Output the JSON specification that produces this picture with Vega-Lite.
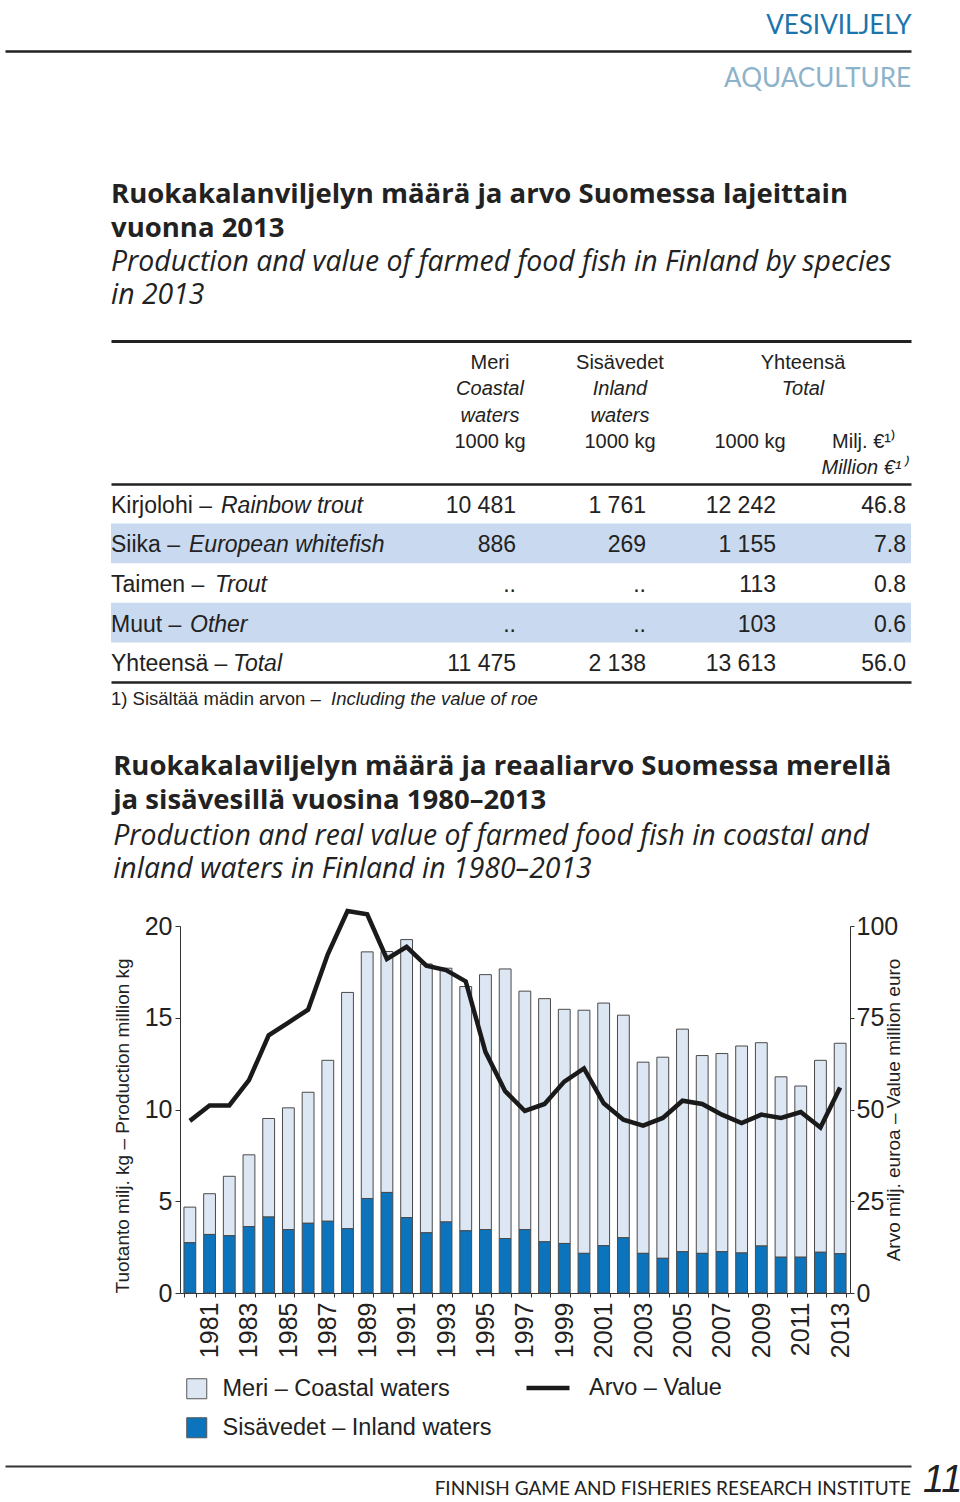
{
  "$schema": "https://vega.github.io/schema/vega-lite/v6.json",
  "background": "white",
  "padding": {"left": 2, "top": 12, "right": 0, "bottom": 0},
  "config": {
    "view": {"stroke": null},
    "font": "Liberation Sans",
    "text": {"color": "#222"},
    "axis": {"grid": false}
  },
  "datasets": {
    "prod": [
      {"year": 1980, "meri": 1.94, "sis": 2.74, "value": 46.9},
      {"year": 1981, "meri": 2.22, "sis": 3.19, "value": 51.1},
      {"year": 1982, "meri": 3.24, "sis": 3.12, "value": 51.1},
      {"year": 1983, "meri": 3.91, "sis": 3.62, "value": 58.0},
      {"year": 1984, "meri": 5.37, "sis": 4.14, "value": 70.2},
      {"year": 1985, "meri": 6.63, "sis": 3.46, "value": 73.7},
      {"year": 1986, "meri": 7.14, "sis": 3.80, "value": 77.2},
      {"year": 1987, "meri": 8.77, "sis": 3.91, "value": 92.3},
      {"year": 1988, "meri": 12.87, "sis": 3.51, "value": 104.1},
      {"year": 1989, "meri": 13.44, "sis": 5.15, "value": 103.2},
      {"year": 1990, "meri": 13.13, "sis": 5.48, "value": 91.0},
      {"year": 1991, "meri": 15.15, "sis": 4.11, "value": 94.3},
      {"year": 1992, "meri": 14.65, "sis": 3.28, "value": 89.2},
      {"year": 1993, "meri": 13.83, "sis": 3.87, "value": 88.0},
      {"year": 1994, "meri": 13.31, "sis": 3.39, "value": 84.9},
      {"year": 1995, "meri": 13.89, "sis": 3.46, "value": 65.7},
      {"year": 1996, "meri": 14.69, "sis": 2.97, "value": 55.0},
      {"year": 1997, "meri": 12.99, "sis": 3.46, "value": 49.6},
      {"year": 1998, "meri": 13.25, "sis": 2.79, "value": 51.5},
      {"year": 1999, "meri": 12.76, "sis": 2.70, "value": 57.6},
      {"year": 2000, "meri": 13.25, "sis": 2.16, "value": 61.2},
      {"year": 2001, "meri": 13.22, "sis": 2.58, "value": 51.7},
      {"year": 2002, "meri": 12.13, "sis": 3.01, "value": 47.2},
      {"year": 2003, "meri": 10.42, "sis": 2.16, "value": 45.6},
      {"year": 2004, "meri": 10.96, "sis": 1.89, "value": 47.7},
      {"year": 2005, "meri": 12.13, "sis": 2.25, "value": 52.4},
      {"year": 2006, "meri": 10.78, "sis": 2.16, "value": 51.5},
      {"year": 2007, "meri": 10.80, "sis": 2.25, "value": 48.6},
      {"year": 2008, "meri": 11.28, "sis": 2.18, "value": 46.3},
      {"year": 2009, "meri": 11.08, "sis": 2.56, "value": 48.6},
      {"year": 2010, "meri": 9.83, "sis": 1.95, "value": 47.7},
      {"year": 2011, "meri": 9.33, "sis": 1.95, "value": 49.3},
      {"year": 2012, "meri": 10.46, "sis": 2.22, "value": 45.1},
      {"year": 2013, "meri": 11.47, "sis": 2.14, "value": 56.0}
    ],
    "hdr": [
      {"line": "l1", "c": "meri", "t": "Meri", "lang": "fi"},
      {"line": "l2", "c": "meri", "t": "Coastal", "lang": "en"},
      {"line": "l3", "c": "meri", "t": "waters", "lang": "en"},
      {"line": "l4", "c": "meri", "t": "1000 kg", "lang": "fi"},
      {"line": "l1", "c": "sis", "t": "Sisävedet", "lang": "fi"},
      {"line": "l2", "c": "sis", "t": "Inland", "lang": "en"},
      {"line": "l3", "c": "sis", "t": "waters", "lang": "en"},
      {"line": "l4", "c": "sis", "t": "1000 kg", "lang": "fi"},
      {"line": "l4", "c": "tot", "t": "1000 kg", "lang": "fi"},
      {"line": "l1", "c": "val", "t": "Yhteensä", "lang": "fi"},
      {"line": "l2", "c": "val", "t": "Total", "lang": "en"},
      {"line": "l4", "c": "val", "t": "Milj. €¹⁾", "lang": "fi"},
      {"line": "l5", "c": "val", "t": "Million €¹⁾", "lang": "en"}
    ],
    "body": [
      {"row": "Kirjolohi", "c": "lab", "fi": "Kirjolohi –", "en": "Rainbow trout"},
      {"row": "Kirjolohi", "c": "meri", "t": "10 481"},
      {"row": "Kirjolohi", "c": "sis", "t": "1 761"},
      {"row": "Kirjolohi", "c": "tot", "t": "12 242"},
      {"row": "Kirjolohi", "c": "val", "t": "46.8"},
      {"row": "Siika", "c": "lab", "fi": "Siika –", "en": "European whitefish"},
      {"row": "Siika", "c": "meri", "t": "886"},
      {"row": "Siika", "c": "sis", "t": "269"},
      {"row": "Siika", "c": "tot", "t": "1 155"},
      {"row": "Siika", "c": "val", "t": "7.8"},
      {"row": "Taimen", "c": "lab", "fi": "Taimen –", "en": "Trout"},
      {"row": "Taimen", "c": "meri", "t": ".."},
      {"row": "Taimen", "c": "sis", "t": ".."},
      {"row": "Taimen", "c": "tot", "t": "113"},
      {"row": "Taimen", "c": "val", "t": "0.8"},
      {"row": "Muut", "c": "lab", "fi": "Muut –", "en": "Other"},
      {"row": "Muut", "c": "meri", "t": ".."},
      {"row": "Muut", "c": "sis", "t": ".."},
      {"row": "Muut", "c": "tot", "t": "103"},
      {"row": "Muut", "c": "val", "t": "0.6"},
      {"row": "Yhteensä", "c": "lab", "fi": "Yhteensä –", "en": "Total"},
      {"row": "Yhteensä", "c": "meri", "t": "11 475"},
      {"row": "Yhteensä", "c": "sis", "t": "2 138"},
      {"row": "Yhteensä", "c": "tot", "t": "13 613"},
      {"row": "Yhteensä", "c": "val", "t": "56.0"}
    ]
  },
  "spacing": 88,
  "vconcat": [
    {
      "width": 906,
      "height": 1,
      "data": {"values": [{}]},
      "title": {"text": "AQUACULTURE", "orient": "bottom", "anchor": "end", "color": "#8db3ca", "font": "Lato", "fontSize": 26, "fontWeight": "normal", "offset": 12},
      "mark": {"type": "point", "opacity": 0},
      "encoding": {
        "x": {"datum": 0, "type": "quantitative", "scale": {"domain": [0, 1]},
          "axis": {"orient": "top", "domain": true, "domainColor": "#222", "domainWidth": 2.5, "ticks": false, "labels": false, "grid": false,
            "title": "VESIVILJELY", "titleAnchor": "end", "titleColor": "#1b74ac", "titleFont": "Lato", "titleFontSize": 26, "titleFontWeight": "normal", "titlePadding": 13}}
      }
    },
    {
      "spacing": 37,
      "vconcat": [
        {
          "spacing": 0,
          "hconcat": [
            {"width": 106, "height": 1, "data": {"values": [{}]}, "mark": {"type": "point", "opacity": 0}, "encoding": {}},
            {
              "spacing": 0,
              "vconcat": [
                {
                  "width": 800,
                  "height": 143,
                  "title": {
                    "text": ["Ruokakalanviljelyn määrä ja arvo Suomessa lajeittain", "vuonna 2013"],
                    "subtitle": ["Production and value of farmed food fish in Finland by species", "in 2013"],
                    "anchor": "start", "frame": "group", "font": "Open Sans", "fontSize": 27.5, "fontWeight": "bold", "lineHeight": 34, "color": "#222",
                    "subtitleFont": "Open Sans", "subtitleFontSize": 28.4, "subtitleFontStyle": "italic", "subtitleLineHeight": 33, "subtitleColor": "#222", "subtitlePadding": 6, "offset": 32
                  },
                  "data": {"name": "hdr"},
                  "resolve": {"scale": {"x": "independent"}, "axis": {"x": "independent"}},
                  "encoding": {
                    "x": {"field": "c", "type": "nominal", "scale": {"type": "point", "domain": ["meri", "sis", "tot", "val"], "range": [405, 795], "padding": 0}, "axis": null},
                    "y": {"field": "line", "type": "nominal", "scale": {"type": "point", "domain": ["l1", "l2", "l3", "l4", "l5"], "padding": 0.72}, "axis": null},
                    "text": {"field": "t"}
                  },
                  "layer": [
                    {"mark": {"type": "point", "opacity": 0},
                      "encoding": {"x": {"datum": 0, "type": "quantitative", "scale": {"domain": [0, 1]},
                        "axis": {"orient": "top", "domain": true, "domainWidth": 3, "domainColor": "#222", "ticks": false, "labels": false, "title": null, "grid": false}}}},
                    {"transform": [{"filter": "datum.c != 'val' && datum.lang == 'fi'"}], "mark": {"type": "text", "align": "center", "dx": -26, "dy": 3, "fontSize": 20}},
                    {"transform": [{"filter": "datum.c != 'val' && datum.lang == 'en'"}], "mark": {"type": "text", "align": "center", "dx": -26, "dy": 3, "fontSize": 20, "fontStyle": "italic"}},
                    {"transform": [{"filter": "datum.c == 'val' && datum.line == 'l1'"}], "mark": {"type": "text", "align": "center", "dx": -103, "dy": 3, "fontSize": 20}},
                    {"transform": [{"filter": "datum.c == 'val' && datum.line == 'l2'"}], "mark": {"type": "text", "align": "center", "dx": -103, "dy": 3, "fontSize": 20, "fontStyle": "italic"}},
                    {"transform": [{"filter": "datum.c == 'val' && datum.line == 'l4'"}], "mark": {"type": "text", "align": "center", "dx": -42, "dy": 3, "fontSize": 20}},
                    {"transform": [{"filter": "datum.c == 'val' && datum.line == 'l5'"}], "mark": {"type": "text", "align": "center", "dx": -42, "dy": 3, "fontSize": 20, "fontStyle": "italic"}}
                  ]
                },
                {
                  "width": 800,
                  "height": 198,
                  "data": {"name": "body"},
                  "resolve": {"scale": {"x": "independent"}, "axis": {"x": "independent"}},
                  "encoding": {
                    "y": {"field": "row", "type": "nominal", "scale": {"type": "band", "domain": ["Kirjolohi", "Siika", "Taimen", "Muut", "Yhteensä"], "paddingInner": 0, "paddingOuter": 0}, "axis": null}
                  },
                  "layer": [
                    {"transform": [{"filter": "datum.c == 'lab' && (datum.row == 'Siika' || datum.row == 'Muut')"}], "mark": {"type": "bar", "color": "#c9d9ef"}},
                    {"transform": [{"filter": "datum.c != 'lab'"}], "mark": {"type": "text", "align": "right", "fontSize": 23, "dy": 2},
                      "encoding": {
                        "x": {"field": "c", "type": "nominal", "scale": {"type": "point", "domain": ["meri", "sis", "tot", "val"], "range": [405, 795], "padding": 0}, "axis": null},
                        "text": {"field": "t"}
                      }},
                    {"transform": [{"filter": "datum.c == 'lab'"}], "mark": {"type": "text", "align": "left", "fontSize": 23, "dy": 2},
                      "encoding": {
                        "x": {"datum": 0, "type": "quantitative", "scale": {"domain": [0, 1]},
                          "axis": {"orient": "bottom", "domain": true, "domainWidth": 2.5, "domainColor": "#222", "ticks": false, "labels": false, "title": null, "grid": false}},
                        "text": {"field": "fi"}
                      }},
                    {"transform": [{"filter": "datum.c == 'lab' && datum.row == 'Kirjolohi'"}], "mark": {"type": "text", "align": "left", "fontSize": 23, "fontStyle": "italic", "dx": 110, "dy": 2},
                      "encoding": {"x": {"datum": 0, "type": "quantitative", "scale": {"domain": [0, 1]},
                        "axis": {"orient": "top", "domain": true, "domainWidth": 2.5, "domainColor": "#222", "ticks": false, "labels": false, "title": null, "grid": false}}, "text": {"field": "en"}}},
                    {"transform": [{"filter": "datum.c == 'lab' && datum.row == 'Siika'"}], "mark": {"type": "text", "align": "left", "fontSize": 23, "fontStyle": "italic", "dx": 78, "dy": 2},
                      "encoding": {"x": {"datum": 0, "type": "quantitative", "scale": {"domain": [0, 1]}, "axis": null}, "text": {"field": "en"}}},
                    {"transform": [{"filter": "datum.c == 'lab' && datum.row == 'Taimen'"}], "mark": {"type": "text", "align": "left", "fontSize": 23, "fontStyle": "italic", "dx": 104, "dy": 2},
                      "encoding": {"x": {"datum": 0, "type": "quantitative", "scale": {"domain": [0, 1]}, "axis": null}, "text": {"field": "en"}}},
                    {"transform": [{"filter": "datum.c == 'lab' && datum.row == 'Muut'"}], "mark": {"type": "text", "align": "left", "fontSize": 23, "fontStyle": "italic", "dx": 79, "dy": 2},
                      "encoding": {"x": {"datum": 0, "type": "quantitative", "scale": {"domain": [0, 1]}, "axis": null}, "text": {"field": "en"}}},
                    {"transform": [{"filter": "datum.c == 'lab' && datum.row == 'Yhteensä'"}], "mark": {"type": "text", "align": "left", "fontSize": 23, "fontStyle": "italic", "dx": 122, "dy": 2},
                      "encoding": {"x": {"datum": 0, "type": "quantitative", "scale": {"domain": [0, 1]}, "axis": null}, "text": {"field": "en"}}}
                  ]
                },
                {
                  "width": 800,
                  "height": 34,
                  "data": {"values": [{"fi": "1) Sisältää mädin arvon –", "en": "Including the value of roe"}]},
                  "encoding": {"x": {"datum": 0, "type": "quantitative", "scale": {"domain": [0, 1]}, "axis": null}},
                  "layer": [
                    {"mark": {"type": "text", "align": "left", "fontSize": 18.5}, "encoding": {"text": {"field": "fi"}}},
                    {"mark": {"type": "text", "align": "left", "fontSize": 18.5, "fontStyle": "italic", "dx": 220}, "encoding": {"text": {"field": "en"}}}
                  ]
                }
              ]
            }
          ]
        },
        {
          "spacing": 104,
          "vconcat": [
            {
              "spacing": 0,
              "hconcat": [
                {"width": 108, "height": 1, "data": {"values": [{}]}, "mark": {"type": "point", "opacity": 0}, "encoding": {}},
                {
                  "width": 670,
                  "height": 367,
                  "title": {
                    "text": ["Ruokakalaviljelyn määrä ja reaaliarvo Suomessa merellä", "ja sisävesillä vuosina 1980–2013"],
                    "subtitle": ["Production and real value of farmed food fish in coastal and", "inland waters in Finland in 1980–2013"],
                    "anchor": "start", "frame": "bounds", "font": "Open Sans", "fontSize": 27.5, "fontWeight": "bold", "lineHeight": 34, "color": "#222",
                    "subtitleFont": "Open Sans", "subtitleFontSize": 28.4, "subtitleFontStyle": "italic", "subtitleLineHeight": 33, "subtitleColor": "#222", "subtitlePadding": 8, "offset": 19
                  },
                  "data": {"name": "prod"},
                  "encoding": {
                    "x": {"field": "year", "type": "ordinal", "scale": {"paddingInner": 0.4, "paddingOuter": 0.2},
                      "axis": {"title": null, "labelAngle": -90, "labelExpr": "datum.value % 2 == 1 ? datum.label : ''", "labelFont": "Liberation Sans", "labelFontSize": 25, "labelColor": "#222", "labelPadding": 5, "tickBand": "extent", "tickSize": 4, "tickColor": "#333", "domainColor": "#333"}}
                  },
                  "layer": [
                    {
                      "transform": [{"fold": ["meri", "sis"], "as": ["area", "v"]}],
                      "mark": {"type": "bar", "stroke": "#4a4a4a", "strokeWidth": 1},
                      "encoding": {
                        "y": {"field": "v", "type": "quantitative", "stack": "zero", "scale": {"domain": [0, 20], "nice": false},
                          "axis": {"orient": "left", "values": [0, 5, 10, 15, 20], "title": "Tuotanto milj. kg – Production million kg", "titleFont": "Liberation Sans", "titleFontSize": 19, "titleFontWeight": "normal", "titleColor": "#222", "titleAnchor": "start", "titlePadding": 12,
                            "labelFont": "Liberation Sans", "labelFontSize": 25, "labelColor": "#222", "labelPadding": 3, "tickSize": 5, "tickColor": "#333", "domainColor": "#333"}},
                        "fill": {"field": "area", "type": "nominal", "scale": {"domain": ["meri", "sis"], "range": ["#dde7f3", "#0b74bc"]},
                          "legend": {"orient": "none", "legendX": 180, "legendY": 1326, "title": null, "direction": "vertical", "symbolType": "square", "symbolSize": 400, "symbolStrokeColor": "#555", "symbolStrokeWidth": 1, "labelFont": "Liberation Sans", "labelFontSize": 23.5, "labelColor": "#222", "labelOffset": 14, "rowPadding": 14,
                            "labelExpr": "datum.label == 'meri' ? 'Meri – Coastal waters' : 'Sisävedet – Inland waters'", "labelLimit": 400}},
                        "order": {"field": "area", "sort": "descending"}
                      }
                    },
                    {
                      "mark": {"type": "line", "strokeWidth": 4.5},
                      "encoding": {
                        "y": {"field": "value", "type": "quantitative", "scale": {"domain": [0, 100], "nice": false},
                          "axis": {"orient": "right", "values": [0, 25, 50, 75, 100], "title": "Arvo milj. euroa – Value million euro", "titleFont": "Liberation Sans", "titleFontSize": 19, "titleFontWeight": "normal", "titleColor": "#222", "titleAngle": -90, "titlePadding": 6,
                            "labelFont": "Liberation Sans", "labelFontSize": 25, "labelColor": "#222", "labelPadding": 2, "tickSize": 4, "tickColor": "#333", "domainColor": "#333"}},
                        "stroke": {"datum": "Arvo – Value", "type": "nominal", "scale": {"range": ["#1a1a1a"]},
                          "legend": {"orient": "none", "legendX": 519, "legendY": 1313, "title": null, "symbolType": "stroke", "symbolSize": 1849, "symbolStrokeWidth": 4.5, "labelFont": "Liberation Sans", "labelFontSize": 23.5, "labelColor": "#222", "labelOffset": 17}}
                      }
                    }
                  ],
                  "resolve": {"scale": {"y": "independent"}}
                }
              ]
            },
            {
              "width": 906,
              "height": 30,
              "data": {"values": [{"t": "FINNISH GAME AND FISHERIES RESEARCH INSTITUTE", "p": "11"}]},
              "encoding": {
                "x": {"datum": 1, "type": "quantitative", "scale": {"domain": [0, 1]},
                  "axis": {"orient": "top", "domain": true, "domainColor": "#333", "domainWidth": 2, "ticks": false, "labels": false, "title": null, "grid": false}}
              },
              "layer": [
                {"mark": {"type": "text", "align": "right", "fontSize": 19, "font": "Lato", "dy": 8}, "encoding": {"text": {"field": "t"}}},
                {"mark": {"type": "text", "align": "left", "fontSize": 38, "fontStyle": "italic", "dx": 12}, "encoding": {"text": {"field": "p"}}}
              ]
            }
          ]
        }
      ]
    }
  ]
}
